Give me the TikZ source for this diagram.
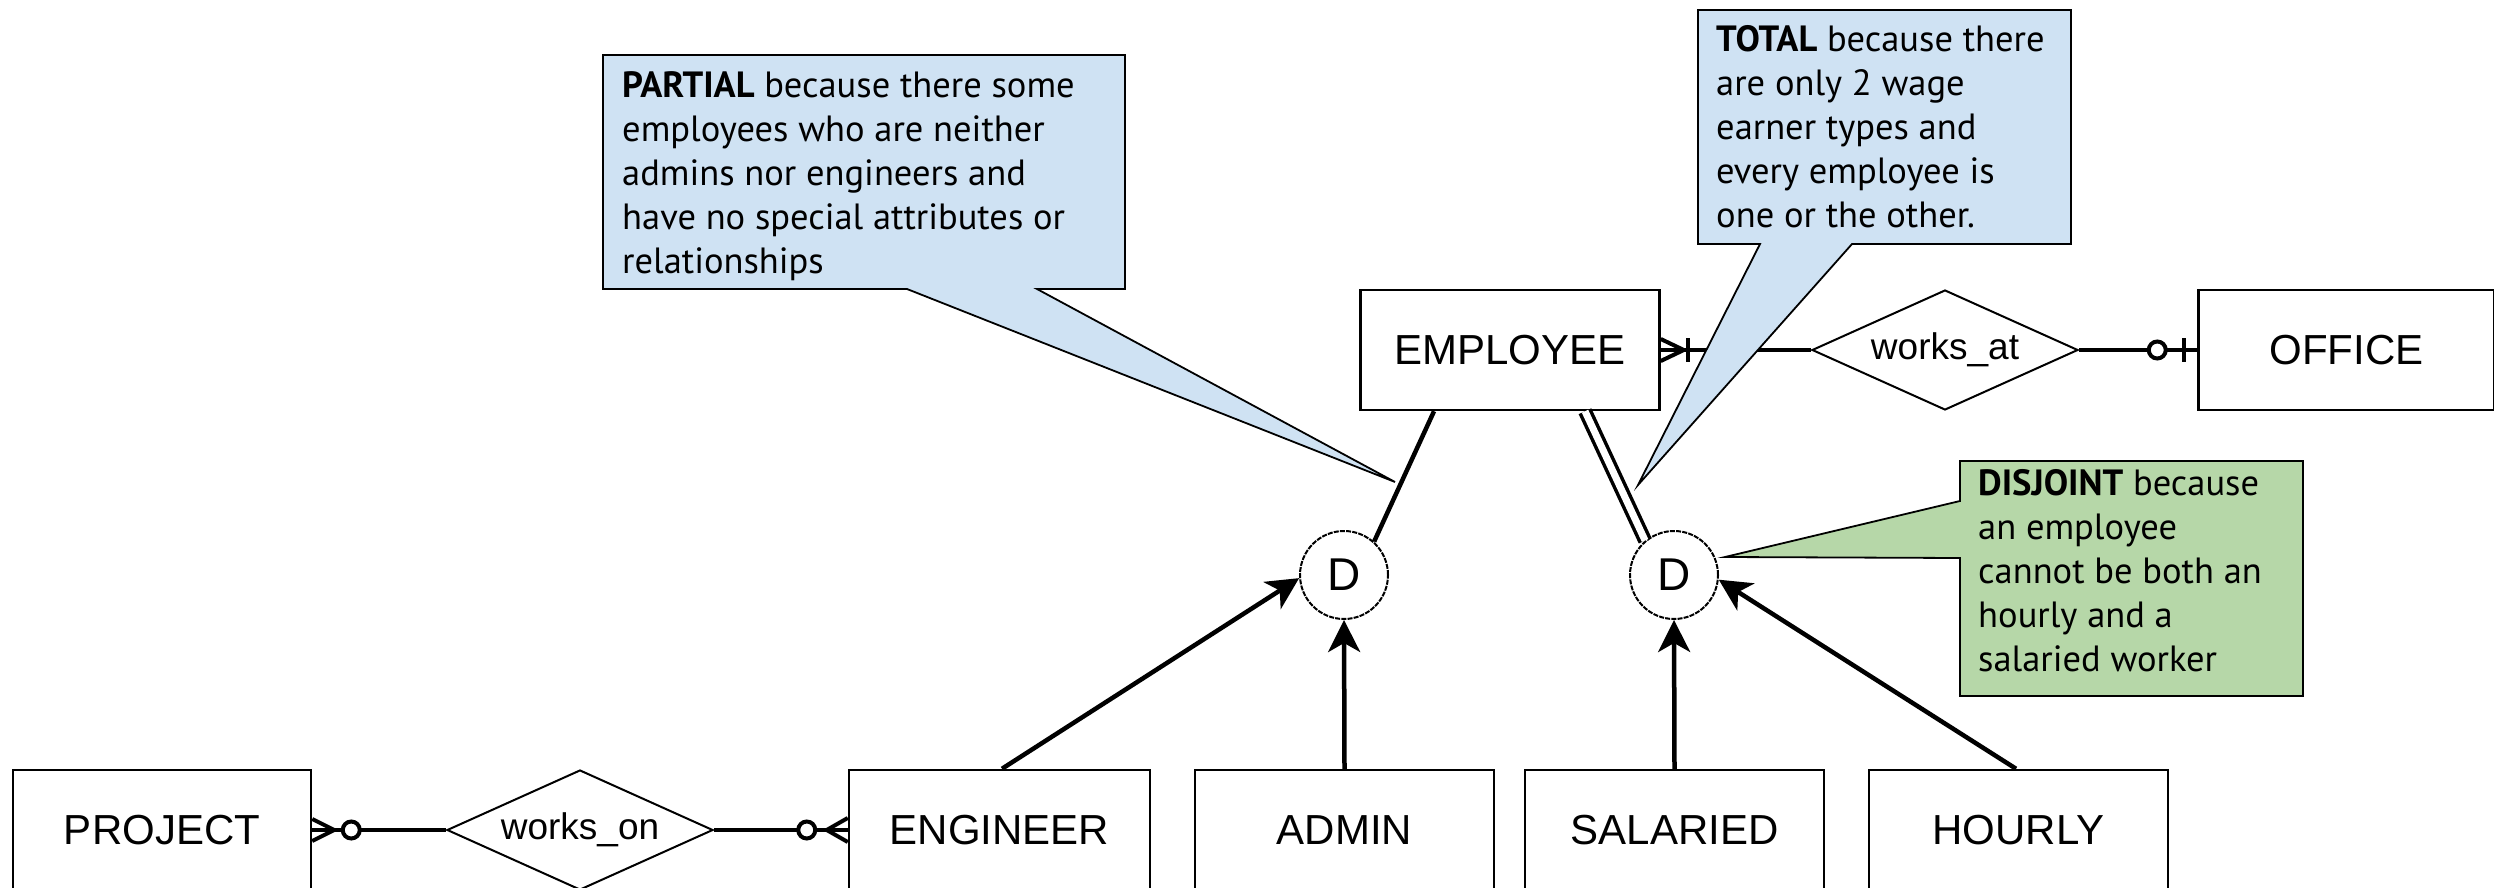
\documentclass[tikz,border=0pt]{standalone}
\usepackage{fontspec}
\setmainfont{Liberation Sans}
\newfontfamily\callfont{PT Sans}
\usetikzlibrary{arrows.meta,calc,shapes.geometric}
\definecolor{callblue}{HTML}{CFE2F3}
\definecolor{callgreen}{HTML}{B6D7A8}
\begin{document}
\begin{tikzpicture}[x=1pt,y=-1pt,
  entity/.style={draw=black, line width=2.5pt, fill=white, minimum width=#1, minimum height=120pt, inner sep=0pt, font=\fontsize{42}{50}\selectfont},
  entity/.default=299pt,
  relship/.style={draw=black, diamond, aspect=2.22, line width=2pt, fill=white, minimum width=266pt, minimum height=120pt, inner sep=0pt, font=\fontsize{37}{44}\selectfont},
  disc/.style={circle, draw=black, line width=2pt, dash pattern=on 5pt off 1.2pt, fill=white, minimum size=88pt, inner sep=0pt, font=\fontsize{46}{54}\selectfont},
  conn/.style={line width=4.5pt},
  foot/.style={line width=4pt},
  isa/.style={line width=4.5pt, -{Stealth[length=32pt,width=32pt,inset=9pt]}},
  callout/.style={draw=black, line width=1.8pt},
  calltext/.style={anchor=base west, inner sep=0pt}
]
\useasboundingbox (0,0) rectangle (2494,888);
\fill[white] (0,0) rectangle (2494,888);
\clip (0,0) rectangle (2494,888);

% entities and relationships
\node[entity] (emp) at (1510,350) {EMPLOYEE};
\node[relship] (worksat) at (1945,350) {works\_at};
\node[entity=296pt] (office) at (2346.5,350) {OFFICE};
\node[disc] (d1) at (1344,575) {D};
\node[disc] (d2) at (1674,575) {D};
\node[entity=298pt] (project) at (162,830) {PROJECT};
\node[relship] (workson) at (580,830) {works\_on};
\node[entity=301pt] (engineer) at (999.5,830) {ENGINEER};
\node[entity] (admin) at (1344.5,830) {ADMIN};
\node[entity] (salaried) at (1674.5,830) {SALARIED};
\node[entity] (hourly) at (2018.5,830) {HOURLY};

% specialisation connectors
\draw[conn] ($(emp.south)+(-76,0)$) -- (d1.48);
\draw[line width=3.5pt, double, double distance=7pt] ($(emp.south)+(75,0)$) -- (d2.130);
\draw[isa] ($(engineer.north)+(2.5,0)$) -- (d1.184);
\draw[isa] (admin.north) -- (d1.south);
\draw[isa] (salaried.north) -- (d2.south);
\draw[isa] ($(hourly.north)+(-2.5,0)$) -- (d2.-6);

% EMPLOYEE -- works_at -- OFFICE
\draw[conn] (emp.east) -- (worksat.west);
\draw[foot] ($(emp.east)+(0,-11)$) -- ($(emp.east)+(23,0)$) -- ($(emp.east)+(0,11)$);
\draw[foot] ($(emp.east)+(27,-12)$) -- ($(emp.east)+(27,12)$);
\draw[conn] (worksat.east) -- (office.west);
\draw[foot] ($(office.west)+(-13,-12)$) -- ($(office.west)+(-13,12)$);
\draw[foot, fill=white] ($(office.west)+(-40,0)$) circle (8.5);

% PROJECT -- works_on -- ENGINEER
\draw[conn] (project.east) -- (workson.west);
\draw[foot] ($(project.east)+(0,-11)$) -- ($(project.east)+(22,0)$) -- ($(project.east)+(0,11)$);
\draw[foot, fill=white] ($(project.east)+(39,0)$) circle (8.5);
\draw[conn] (workson.east) -- (engineer.west);
\draw[foot] ($(engineer.west)+(0,-12)$) -- ($(engineer.west)+(-21,0)$) -- ($(engineer.west)+(0,12)$);
\draw[foot, fill=white] ($(engineer.west)+(-41,0)$) circle (8.5);

% callouts
\filldraw[callout, fill=callblue] (603,55) -- (1125,55) -- (1125,289) -- (1037,289) -- (1395,482) -- (907,289) -- (603,289) -- cycle;
\filldraw[callout, fill=callblue] (1698,10) -- (2071,10) -- (2071,244) -- (1852,244) -- (1638,485) -- (1760,244) -- (1698,244) -- cycle;
\filldraw[callout, fill=callgreen] (1960,461) -- (2303,461) -- (2303,696) -- (1960,696) -- (1960,558) -- (1725,557) -- (1960,501) -- cycle;

\node[calltext] (partialtxt) at (622,98) {\parbox[t]{490pt}{\callfont\fontsize{36.5}{44}\selectfont\raggedright
\textbf{PARTIAL} because there some\\employees who are neither\\admins nor engineers and\\have no special attributes or\\relationships}};
\node[calltext] (totaltxt) at (1716,52) {\parbox[t]{350pt}{\callfont\fontsize{36.5}{44}\selectfont\raggedright
\textbf{TOTAL} because there\\are only 2 wage\\earner types and\\every employee is\\one or the other.}};
\node[calltext] (disjointtxt) at (1978,495) {\parbox[t]{320pt}{\callfont\fontsize{36.5}{44}\selectfont\raggedright
\textbf{DISJOINT} because\\an employee\\cannot be both an\\hourly and a\\salaried worker}};
\end{tikzpicture}
\end{document}
